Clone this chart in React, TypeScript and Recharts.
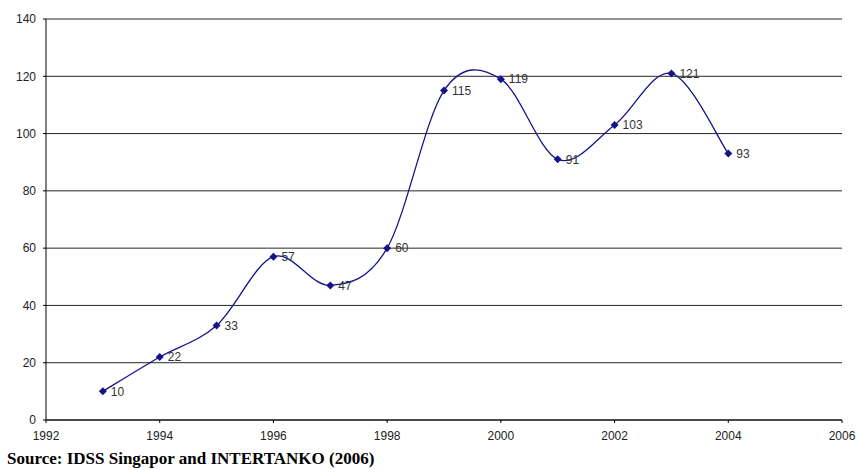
import { LineChart, Line, XAxis, YAxis, CartesianGrid, LabelList } from "recharts";

const years = [1993, 1994, 1995, 1996, 1997, 1998, 1999, 2000, 2001, 2002, 2003, 2004];
const counts = [10, 22, 33, 57, 47, 60, 115, 119, 91, 103, 121, 93];
const xTicks = [1992, 1994, 1996, 1998, 2000, 2002, 2004, 2006];
const yTicks = [0, 20, 40, 60, 80, 100, 120, 140];

const data = years.map((year, i) => ({ year, count: counts[i] }));

const NAVY = "#14148a";
const tickStyle = { fontSize: 12, fill: "#222", fontFamily: "Liberation Sans, Arial, sans-serif" };

// Excel-like smoothed line (Catmull-Rom via cubic bezier)
const smoothCurve = (context: any) => {
  let pts: [number, number][] = [];
  return {
    areaStart() {},
    areaEnd() {},
    lineStart() {
      pts = [];
    },
    lineEnd() {
      if (!pts.length) return;
      context.moveTo(pts[0][0], pts[0][1]);
      for (let i = 0; i < pts.length - 1; i++) {
        const p0 = pts[Math.max(i - 1, 0)];
        const p1 = pts[i];
        const p2 = pts[i + 1];
        const p3 = pts[Math.min(i + 2, pts.length - 1)];
        context.bezierCurveTo(
          p1[0] + (p2[0] - p0[0]) / 6,
          p1[1] + (p2[1] - p0[1]) / 6,
          p2[0] - (p3[0] - p1[0]) / 6,
          p2[1] - (p3[1] - p1[1]) / 6,
          p2[0],
          p2[1]
        );
      }
    },
    point(x: number, y: number) {
      pts.push([+x, +y]);
    },
  };
};

const Diamond = (props: any) => {
  const { cx, cy } = props;
  if (cx == null || cy == null) return null;
  const r = 4;
  return <polygon points={`${cx},${cy - r} ${cx + r},${cy} ${cx},${cy + r} ${cx - r},${cy}`} fill={NAVY} />;
};

export default function App() {
  return (
    <div style={{ position: "absolute", left: 0, top: 0, width: 856, height: 470, background: "#fff", overflow: "hidden" }}>
      <LineChart width={856} height={470} data={data} margin={{ top: 19, right: 14, bottom: 30, left: 0 }}>
        <CartesianGrid vertical={false} stroke="#000" strokeOpacity={0.85} />
        <XAxis
          dataKey="year"
          type="number"
          domain={[1992, 2006]}
          ticks={xTicks}
          height={20}
          tick={tickStyle}
          tickSize={3}
          tickMargin={8}
          stroke="#000"
        />
        <YAxis
          domain={[0, 140]}
          ticks={yTicks}
          width={46}
          tick={tickStyle}
          tickSize={3}
          tickMargin={7}
          stroke="#000"
        />
        <Line
          dataKey="count"
          type={smoothCurve as any}
          stroke={NAVY}
          strokeWidth={1.3}
          dot={<Diamond />}
          activeDot={false}
          isAnimationActive={false}
        >
          <LabelList dataKey="count" position="right" offset={8} style={{ ...tickStyle, fill: "#333" }} />
        </Line>
      </LineChart>
      <div
        style={{
          position: "absolute",
          left: 7,
          top: 450,
          fontFamily: "Liberation Serif, Times New Roman, serif",
          fontWeight: "bold",
          fontSize: 17,
          lineHeight: "18px",
          color: "#000",
          whiteSpace: "nowrap",
        }}
      >
        Source: IDSS Singapor and INTERTANKO (2006)
      </div>
    </div>
  );
}
